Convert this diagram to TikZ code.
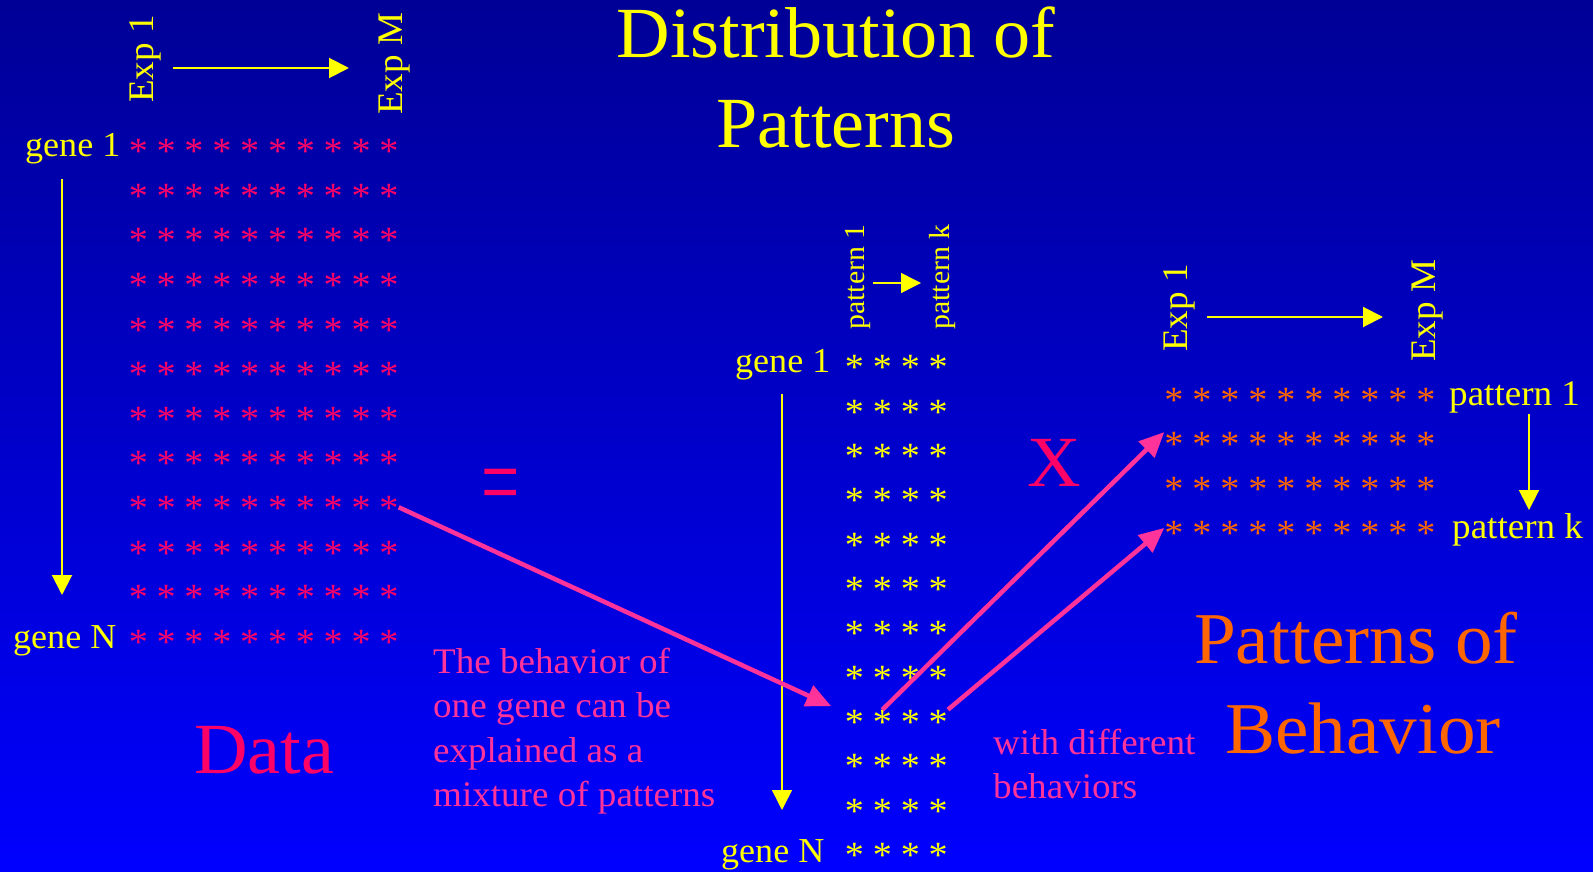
\documentclass[tikz,border=0pt]{standalone}
\usepackage{fontspec}
\setmainfont{Liberation Serif}[FakeStretch=1.03]
\usetikzlibrary{arrows.meta}
\definecolor{ylw}{RGB}{255,255,0}
\definecolor{crim}{RGB}{255,0,102}
\definecolor{hotpink}{RGB}{255,51,153}
\definecolor{orng}{RGB}{255,102,0}
\definecolor{bgtop}{RGB}{0,0,150}
\definecolor{bgbot}{RGB}{0,0,255}
\newcommand{\myfs}[1]{\fontsize{#1}{#1}\selectfont}
\newcommand{\stx}{\raisebox{\dimexpr0.178em-\height\relax}{*}}
\tikzset{
  lbl/.style={text=ylw, inner sep=0pt, font=\myfs{35}},
  starnode/.style={inner sep=0pt, text height=7pt, text depth=7pt, font=\myfs{37}},
  yarrow/.style={draw=ylw, line width=2pt, -{Triangle[length=20pt,width=20pt]}},
  ythin/.style={draw=ylw, line width=1.5pt, -{Triangle[length=20pt,width=20pt]}},
  parrow/.style={draw=hotpink, line width=4.5pt, -{Triangle[length=25pt,width=22pt]}},
  big/.style={inner sep=0pt, font=\fontsize{72}{90}\selectfont},
  pinktext/.style={text=hotpink, inner sep=0pt, align=left, anchor=north west, font=\fontsize{36}{44.4}\selectfont}
}
\begin{document}
\begin{tikzpicture}[x=1pt,y=-1pt]
\useasboundingbox (0,0) rectangle (1593,872);
\shade[top color=bgtop, bottom color=bgbot] (0,0) rectangle (1593,872);

% ---- star matrices
\foreach \r in {1,...,12}{
  \foreach \c in {1,...,10}{
    \node[starnode, text=crim] (L-\r-\c) at ({138.3+27.85*(\c-1)},{146+44.6*(\r-1)}) {\stx};
  }
  \foreach \c in {1,...,4}{
    \node[starnode, text=ylw] (M-\r-\c) at ({854.5+27.9*(\c-1)},{362+44.36*(\r-1)}) {\stx};
  }
}
\foreach \r in {1,...,4}{
  \foreach \c in {1,...,10}{
    \node[starnode, text=orng] (R-\r-\c) at ({1174+28*(\c-1)},{395+44.3*(\r-1)}) {\stx};
  }
}

% ---- left block labels
\node[lbl, anchor=base west] (g1L) at (25,157) {gene 1};
\node[lbl, anchor=base west] (gNL) at (13,648) {gene N};
\node[lbl, font=\myfs{36}, rotate=90, anchor=base west] (e1L) at (153,103) {Exp 1};
\node[lbl, font=\myfs{36}, rotate=90, anchor=base west] (eML) at (402,115) {Exp M};
\coordinate (aLh1) at (173,68);  \coordinate (aLh2) at (349,68);
\coordinate (aLv1) at (62,179);  \coordinate (aLv2) at (62,595);
\draw[yarrow] (aLh1) -- (aLh2);
\draw[yarrow] (aLv1) -- (aLv2);

% ---- middle block labels
\node[lbl, anchor=base west] (g1M) at (735,372) {gene 1};
\node[lbl, anchor=base west] (gNM) at (721,862) {gene N};
\node[lbl, font=\myfs{29}, rotate=90, anchor=base west] (p1M) at (864,330) {pattern 1};
\node[lbl, font=\myfs{29}, rotate=90, anchor=base west] (pkM) at (949,330) {pattern k};
\coordinate (aMh1) at (873,283); \coordinate (aMh2) at (921,283);
\coordinate (aMv1) at (782,394); \coordinate (aMv2) at (782,810);
\draw[ythin] (aMh1) -- (aMh2);
\draw[ythin] (aMv1) -- (aMv2);

% ---- right block labels
\node[lbl, font=\myfs{36}, rotate=90, anchor=base west] (e1R) at (1187,352) {Exp 1};
\node[lbl, font=\myfs{36}, rotate=90, anchor=base west] (eMR) at (1435,362) {Exp M};
\node[lbl, font=\myfs{36}, anchor=base west] (p1R) at (1449,405) {pattern 1};
\node[lbl, font=\myfs{36}, anchor=base west] (pkR) at (1452,538) {pattern k};
\coordinate (aRh1) at (1207,317); \coordinate (aRh2) at (1383,317);
\coordinate (aRv1) at (1529,414); \coordinate (aRv2) at (1529,510);
\draw[yarrow] (aRh1) -- (aRh2);
\draw[yarrow] (aRv1) -- (aRv2);

% ---- big texts
\node[big, text=ylw, align=center, anchor=north] (title) at (836,7) {Distribution of\\Patterns};
\node[big, text=crim, anchor=base west] (data) at (194,773) {Data};
\node[big, text=crim, anchor=base west] (times) at (1027,486) {X};
\node[inner sep=0pt, text=crim, font=\myfs{66}, anchor=base] (eq) at (501,517) {\scalebox{1}[1.6]{=}};
\node[inner sep=0pt, text=orng, font=\fontsize{73}{90}\selectfont, align=center, anchor=north] (pob) at (1356,612) {Patterns of\\\hspace*{14pt}Behavior};

% ---- pink explanations
\node[pinktext] (expl) at (433,648) {The behavior of\\one gene can be\\explained as a\\mixture of patterns};
\node[pinktext] (diff) at (993,729) {with different\\behaviors};

% ---- pink arrows
\draw[parrow, shorten >=15pt] (L-9-10) -- (M-9-1);
\draw[parrow] (M-9-2.north) -- (R-2-1.north west);
\draw[parrow] (M-9-4.north east) -- (R-4-1.west);
\end{tikzpicture}
\end{document}
